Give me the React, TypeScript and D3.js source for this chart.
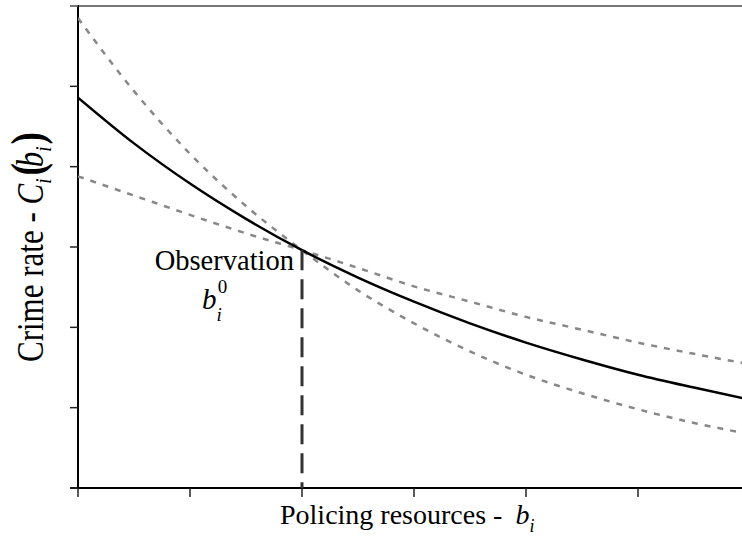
import { useRef, useEffect } from "react";
import * as d3 from "d3";

// policing resources (x) sampled every half unit
const resources = [0, 0.5, 1, 1.5, 2, 2.5, 3, 3.5, 4, 4.5, 5, 5.5, 6];
// crime rate curves
const crimeMain = [4.86, 4.29, 3.79, 3.35, 2.96, 2.62, 2.32, 2.05, 1.81, 1.6, 1.41, 1.25, 1.1];
const crimeSteep = [5.85, 4.94, 4.16, 3.51, 2.96, 2.46, 2.05, 1.7, 1.41, 1.18, 0.98, 0.81, 0.67];
const crimeFlat = [3.88, 3.64, 3.4, 3.17, 2.96, 2.74, 2.51, 2.32, 2.13, 1.97, 1.81, 1.67, 1.54];
const xTicks = [0, 1, 2, 3, 4, 5];
const yTicks = [0, 1, 2, 3, 4, 5, 6];
const observation = { b: 2, c: 2.96 };

const FONT = "'Liberation Serif', 'Times New Roman', serif";

export default function App() {
  const svgRef = useRef<SVGSVGElement>(null);

  useEffect(() => {
    if (!svgRef.current) return;
    const svg = d3.select(svgRef.current);
    svg.selectAll("*").remove();

    const width = 742;
    const height = 539;
    svg.attr("width", width).attr("height", height);

    const x = d3.scaleLinear().domain([0, 6]).range([78, 750]);
    const y = d3.scaleLinear().domain([0, 6]).range([488, 6]);

    // top frame line
    svg.append("line")
      .attr("x1", 70).attr("x2", width)
      .attr("y1", y(6)).attr("y2", y(6))
      .attr("stroke", "#777").attr("stroke-width", 2);

    // axes
    svg.append("line")
      .attr("x1", x(0)).attr("x2", x(0))
      .attr("y1", y(6) - 1).attr("y2", y(0))
      .attr("stroke", "#000").attr("stroke-width", 2);
    svg.append("line")
      .attr("x1", 70).attr("x2", width)
      .attr("y1", y(0)).attr("y2", y(0))
      .attr("stroke", "#000").attr("stroke-width", 2);

    yTicks.forEach((t) => {
      svg.append("line")
        .attr("x1", 70).attr("x2", x(0))
        .attr("y1", y(t)).attr("y2", y(t))
        .attr("stroke", t === 6 ? "#777" : "#222").attr("stroke-width", 1.5);
    });
    xTicks.forEach((t) => {
      svg.append("line")
        .attr("x1", x(t)).attr("x2", x(t))
        .attr("y1", y(0)).attr("y2", y(0) + 9)
        .attr("stroke", "#222").attr("stroke-width", 1.5);
    });

    const line = (vals: number[]) =>
      d3.line<number>()
        .x((_, i) => x(resources[i]))
        .y((d) => y(d))
        .curve(d3.curveMonotoneX)(vals);

    const clip = svg.append("clipPath").attr("id", "plot-clip");
    clip.append("rect").attr("x", x(0)).attr("y", 0).attr("width", width - x(0)).attr("height", y(0));
    const plot = svg.append("g").attr("clip-path", "url(#plot-clip)");

    [crimeSteep, crimeFlat].forEach((vals) => {
      plot.append("path")
        .attr("d", line(vals))
        .attr("fill", "none")
        .attr("stroke", "#888")
        .attr("stroke-width", 2.5)
        .attr("stroke-dasharray", "6,7");
    });

    plot.append("path")
      .attr("d", line(crimeMain))
      .attr("fill", "none")
      .attr("stroke", "#000")
      .attr("stroke-width", 2.5);

    // observation marker
    svg.append("line")
      .attr("x1", x(observation.b)).attr("x2", x(observation.b))
      .attr("y1", y(observation.c)).attr("y2", y(0))
      .attr("stroke", "#333").attr("stroke-width", 3)
      .attr("stroke-dasharray", "20,9");

    svg.append("text")
      .attr("x", x(observation.b) - 8)
      .attr("y", 270)
      .attr("text-anchor", "end")
      .attr("font-family", FONT)
      .attr("font-size", 28.5)
      .attr("fill", "#000")
      .text("Observation");

    const b0 = svg.append("text")
      .attr("x", 202).attr("y", 309)
      .attr("font-family", FONT).attr("font-size", 29).attr("fill", "#000");
    b0.append("tspan").attr("font-style", "italic").text("b");
    b0.append("tspan").attr("font-size", 19).attr("font-style", "italic").attr("dy", 12).attr("dx", 0).text("i");
    b0.append("tspan").attr("font-size", 19).attr("dy", -28).attr("dx", -4).text("0");

    // x label
    const xl = svg.append("text")
      .attr("x", 280).attr("y", 524)
      .attr("font-family", FONT).attr("font-size", 28).attr("fill", "#000")
      .style("white-space", "pre");
    xl.append("tspan").text("Policing resources -");
    xl.append("tspan").attr("dx", 13).attr("font-style", "italic").text("b");
    xl.append("tspan").attr("font-size", 18).attr("font-style", "italic").attr("dy", 8).text("i");

    // y label (glyphs stretched like the original)
    const yl = svg.append("text")
      .attr("transform", "translate(43,362) rotate(-90) scale(1,1.25)")
      .attr("font-family", FONT).attr("font-size", 31).attr("fill", "#000")
      .style("white-space", "pre");
    yl.append("tspan").text("Crime rate - ");
    yl.append("tspan").attr("font-style", "italic").text("C");
    yl.append("tspan").attr("font-size", 19).attr("font-style", "italic").attr("dy", 6).text("i");
    yl.append("tspan").attr("font-size", 37).attr("font-weight", "bold").attr("dy", -6).attr("dx", 3).text("(");
    yl.append("tspan").attr("font-style", "italic").attr("dx", -4).text("b");
    yl.append("tspan").attr("font-size", 19).attr("font-style", "italic").attr("dy", 6).text("i");
    yl.append("tspan").attr("font-size", 37).attr("font-weight", "bold").attr("dy", -6).attr("dx", 2).text(")");
  }, []);

  return (
    <div style={{ position: "absolute", left: 0, top: 0 }}>
      <svg ref={svgRef} style={{ display: "block", background: "#fff" }} />
    </div>
  );
}
